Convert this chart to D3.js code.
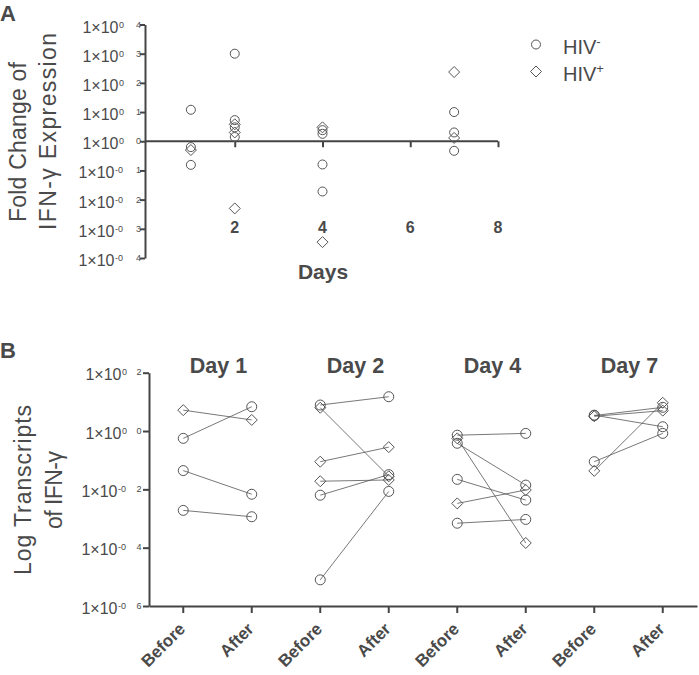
<!DOCTYPE html>
<html>
<head>
<meta charset="utf-8">
<script src="https://cdn.jsdelivr.net/npm/d3@7"></script>
<style>
  html, body { margin: 0; padding: 0; background: #fff; }
  svg { display: block; }
  text { font-family: "Liberation Sans", Arial, sans-serif; fill: #4a4a4a; }
</style>
</head>
<body>
<script>
// ---------- Panel A data ----------
const hivNegDays = [1, 1, 1, 2, 2, 2, 2, 4, 4, 4, 4, 7, 7, 7];
const hivNegVals = [12, 0.63, 0.155, 1000, 5.3, 3.0, 1.4, 2.4, 1.8, 0.16, 0.019, 10, 2.0, 0.47];
const hivPosDays = [1, 2, 2, 2, 4, 4, 7, 7];
const hivPosVals = [0.5, 3.8, 2.0, 0.005, 3.0, 0.00035, 235, 1.3];
const dayTicksA = [2, 4, 6, 8];
const expTicksA = [4, 3, 2, 1, 0, -1, -2, -3, -4];
const legendLabels = ["HIV", "HIV"];
const legendSups = ["-", "+"];

// ---------- Panel B data ----------
const categoriesB = ["Before", "After", "Before", "After", "Before", "After", "Before", "After"];
const dayTitles = ["Day 1", "Day 2", "Day 4", "Day 7"];
const pairDay   = [0, 0, 0, 0,  1, 1, 1, 1, 1, 1,  2, 2, 2, 2, 2, 2,  3, 3, 3, 3, 3];
const pairGroup = ["pos", "neg", "neg", "neg",
                   "neg", "pos", "pos", "pos", "neg", "neg",
                   "neg", "pos", "neg", "neg", "pos", "neg",
                   "neg", "pos", "neg", "neg", "pos"];
const beforeVals = [5.2, 0.56, 0.044, 0.0019,
                    7.8, 6.3, 0.089, 0.019, 0.0063, 0.0000079,
                    0.72, 0.56, 0.38, 0.022, 0.0033, 0.00069,
                    3.4, 3.2, 3.5, 0.089, 0.043];
const afterVals  = [2.4, 6.8, 0.0068, 0.00115,
                    15, 0.028, 0.28, 0.021, 0.032, 0.0085,
                    0.83, 0.000145, 0.014, 0.0043, 0.0095, 0.00093,
                    6.5, 5.0, 1.4, 0.83, 9.3];
const expTicksB = [2, 0, -2, -4, -6];

// ---------- Setup ----------
const W = 699, H = 675;
const ink = "#444";
const svg = d3.select("body").append("svg").attr("width", W).attr("height", H);

function diamondPath(h) { return `M0,${-h}L${h},0L0,${h}L${-h},0Z`; }

// "1×10" + superscript "0 e" / "-0 e"
function expLabel(g, y, e, pos) {
  const neg = e < 0;
  g.append("text").attr("x", neg ? pos.mainEndNeg : pos.mainEndPos).attr("y", y)
    .attr("text-anchor", "end").style("font-size", "16px").text("1\u00d710");
  g.append("text").attr("x", (neg ? pos.mainEndNeg : pos.mainEndPos) + 0.5).attr("y", y - 5)
    .style("font-size", "9px").text(neg ? "-0" : "0");
  g.append("text").attr("x", pos.digitEnd).attr("y", y - 5).attr("text-anchor", "end")
    .style("font-size", "9px").text(Math.abs(e));
}

// ================= Panel A =================
const gA = svg.append("g");
const xA = d3.scaleLinear().domain([0, 8]).range([147, 498]);
const yA = d3.scaleLog().domain([1e-4, 1e4]).range([258, 24.5]);

gA.append("text").attr("x", 0).attr("y", 21).style("font-size", "22px").style("font-weight", "bold").text("A");

const yAxisA = gA.append("g").attr("transform", "translate(145,0)")
  .call(d3.axisLeft(yA).tickValues(expTicksA.map(e => Math.pow(10, e))).tickSize(5).tickSizeOuter(0).tickFormat(""));
yAxisA.selectAll("path, line").attr("stroke", ink).attr("stroke-width", 2);
expTicksA.forEach(e => expLabel(gA, yA(Math.pow(10, e)) + 8, e, { mainEndPos: 118.5, mainEndNeg: 114.5, digitEnd: 141 }));

const xAxisA = gA.append("g").attr("transform", `translate(0,${yA(1)})`)
  .call(d3.axisBottom(xA).tickValues(dayTicksA).tickSize(6).tickSizeOuter(0).tickFormat(""));
xAxisA.select(".domain").attr("d", `M145,0H${xA(8)}`);
xAxisA.selectAll("path, line").attr("stroke", ink).attr("stroke-width", 2);
dayTicksA.forEach(d => {
  gA.append("text").attr("x", xA(d)).attr("y", 233).attr("text-anchor", "middle")
    .style("font-size", "16px").style("font-weight", "bold").text(d);
});
gA.append("text").attr("x", 323).attr("y", 279).attr("text-anchor", "middle")
  .style("font-size", "21px").style("font-weight", "bold").text("Days");

const tA = gA.append("text").attr("transform", "translate(0,142) rotate(-90)").attr("text-anchor", "middle")
  .style("font-size", "23px");
tA.append("tspan").attr("x", 0).attr("y", 26).attr("textLength", 160).attr("lengthAdjust", "spacing").text("Fold Change of");
tA.append("tspan").attr("x", 10.5).attr("y", 56).attr("textLength", 197).attr("lengthAdjust", "spacing").text("IFN-\u03b3 Expression");

gA.selectAll("circle.neg").data(hivNegVals).join("circle")
  .attr("cx", (d, i) => xA(hivNegDays[i])).attr("cy", d => yA(d)).attr("r", 4.5)
  .attr("fill", "none").attr("stroke", "#555").attr("stroke-width", 1);
gA.selectAll("path.pos").data(hivPosVals).join("path")
  .attr("transform", (d, i) => `translate(${xA(hivPosDays[i])},${yA(d)})`)
  .attr("d", diamondPath(5.5)).attr("fill", "none").attr("stroke", "#555").attr("stroke-width", 1);

const legY = [44.5, 71.5];
gA.append("circle").attr("cx", 536).attr("cy", legY[0]).attr("r", 4.5).attr("fill", "none").attr("stroke", "#555");
gA.append("path").attr("transform", `translate(536,${legY[1]})`).attr("d", diamondPath(5.5)).attr("fill", "none").attr("stroke", "#555");
legendLabels.forEach((l, i) => {
  const t = gA.append("text").attr("x", 563).attr("y", legY[i] + 9).style("font-size", "20px");
  t.append("tspan").text(l);
  t.append("tspan").attr("dy", -8).style("font-size", "13px").text(legendSups[i]);
});

// ================= Panel B =================
const gB = svg.append("g");
const xB = d3.scaleBand().domain(d3.range(categoriesB.length)).range([149, 697]);
const cx = i => xB(i) + xB.bandwidth() / 2;
const yB = d3.scaleLog().domain([1e-6, 1e2]).range([606, 372.7]);

gB.append("text").attr("x", 0).attr("y", 358).style("font-size", "22px").style("font-weight", "bold").text("B");

const yAxisB = gB.append("g").attr("transform", "translate(149,0)")
  .call(d3.axisLeft(yB).tickValues(expTicksB.map(e => Math.pow(10, e))).tickSize(6).tickSizeOuter(0).tickFormat(""));
yAxisB.selectAll("path, line").attr("stroke", ink).attr("stroke-width", 2);
expTicksB.forEach(e => expLabel(gB, yB(Math.pow(10, e)) + 7.5, e, { mainEndPos: 121.5, mainEndNeg: 117.5, digitEnd: 141.5 }));

const xAxisB = gB.append("g").attr("transform", "translate(0,606)")
  .call(d3.axisBottom(xB).tickSize(7).tickSizeOuter(0).tickFormat(""));
xAxisB.selectAll("path, line").attr("stroke", ink).attr("stroke-width", 2);
categoriesB.forEach((c, i) => {
  gB.append("text").attr("transform", `translate(${cx(i) + 3},630) rotate(-45)`)
    .attr("text-anchor", "end").style("font-size", "17px").style("font-weight", "bold").text(c);
});

dayTitles.forEach((d, k) => {
  gB.append("text").attr("x", (cx(2 * k) + cx(2 * k + 1)) / 2 + 1).attr("y", 373).attr("text-anchor", "middle")
    .style("font-size", "21.5px").style("font-weight", "bold").text(d);
});

const tB = gB.append("text").attr("transform", "translate(0,490) rotate(-90)").attr("text-anchor", "middle")
  .style("font-size", "23px");
tB.append("tspan").attr("x", 0).attr("y", 31).attr("textLength", 170).attr("lengthAdjust", "spacing").text("Log Transcripts");
tB.append("tspan").attr("x", 0).attr("y", 62).attr("textLength", 78).attr("lengthAdjust", "spacing").text("of IFN-\u03b3");

const idx = d3.range(beforeVals.length);
gB.selectAll("line.pair").data(idx).join("line")
  .attr("x1", i => cx(2 * pairDay[i])).attr("y1", i => yB(beforeVals[i]))
  .attr("x2", i => cx(2 * pairDay[i] + 1)).attr("y2", i => yB(afterVals[i]))
  .attr("stroke", "#555").attr("stroke-width", 0.8);

function marker(g, x, y, grp) {
  if (grp === "neg") {
    g.append("circle").attr("cx", x).attr("cy", y).attr("r", 5).attr("fill", "none").attr("stroke", "#555").attr("stroke-width", 1);
  } else {
    g.append("path").attr("transform", `translate(${x},${y})`).attr("d", diamondPath(5.5))
      .attr("fill", "none").attr("stroke", "#555").attr("stroke-width", 1);
  }
}
idx.forEach(i => {
  marker(gB, cx(2 * pairDay[i]), yB(beforeVals[i]), pairGroup[i]);
  marker(gB, cx(2 * pairDay[i] + 1), yB(afterVals[i]), pairGroup[i]);
});
</script>
</body>
</html>
